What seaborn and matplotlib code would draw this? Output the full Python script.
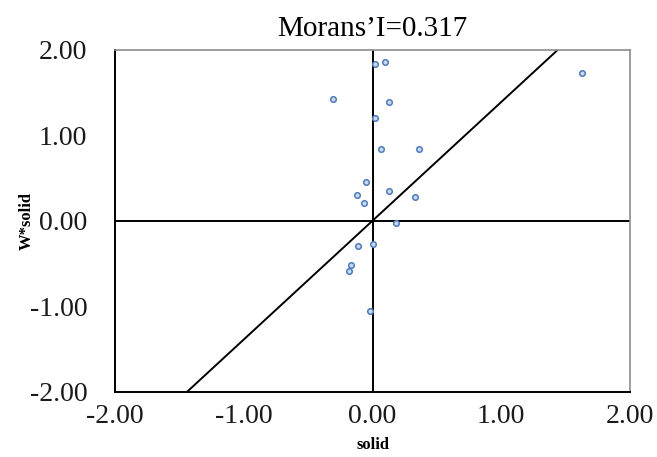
import matplotlib
matplotlib.use("Agg")
import matplotlib.pyplot as plt
import seaborn as sns
import pandas as pd

solid = [0.016, 0.10, -0.305, 0.13, 0.023, 0.067, 0.362, -0.049, -0.122, 0.126,
         -0.064, 0.328, 0.184, 0.002, -0.116, -0.168, -0.18, -0.023, 1.63]
w_solid = [1.83, 1.86, 1.43, 1.39, 1.20, 0.84, 0.84, 0.45, 0.30, 0.35,
           0.21, 0.28, -0.03, -0.27, -0.30, -0.52, -0.59, -1.06, 1.73]
slope = 1.39
title = "Morans\u2019I=0.317"
ticks = [-2, -1, 0, 1, 2]

df = pd.DataFrame({"solid": solid, "W*solid": w_solid})

sns.set_style("white")
plt.rcParams['font.family'] = ['Liberation Serif', 'DejaVu Serif']
plt.rcParams['text.color'] = 'black'
plt.rcParams['axes.labelcolor'] = 'black'
plt.rcParams['xtick.color'] = 'black'
plt.rcParams['ytick.color'] = 'black'

fig = plt.figure(figsize=(6.57, 4.57), dpi=100)
ax = fig.add_axes([0.175, 0.143, 0.784, 0.748])

ax.axhline(0, color='black', lw=1.4, zorder=1)
ax.axvline(0, color='black', lw=1.4, zorder=1)
ax.axline((0, 0), slope=slope, color='black', lw=1.4, zorder=1)

sns.scatterplot(data=df, x="solid", y="W*solid", ax=ax, marker='o', s=16,
                facecolor='#c9d8ef', edgecolor='#4a7cc4', linewidth=1.1, zorder=3)

ax.set_xlim(-2, 2)
ax.set_ylim(-2, 2)
ax.set_xticks(ticks)
ax.set_yticks(ticks)
ax.set_xticklabels([f"{t:.2f}" for t in ticks], fontsize=20, color='#1a1a1a')
ax.set_yticklabels([f"{t:.2f}" for t in ticks], fontsize=20, color='#1a1a1a')
ax.tick_params(axis='both', direction='in', length=5, width=1.2, color='black')
ax.tick_params(axis='x', pad=9)
ax.tick_params(axis='y', pad=20)

for s in ['left', 'bottom']:
    ax.spines[s].set_color('black')
    ax.spines[s].set_linewidth(1.4)
for s in ['top', 'right']:
    ax.spines[s].set_color('#8c8c8c')
    ax.spines[s].set_linewidth(1.2)

ax.set_xlabel("solid", fontsize=12, fontweight='bold', labelpad=6)
ax.set_ylabel("W*solid", fontsize=12, fontweight='bold', labelpad=-4)
ax.set_title(title, fontsize=21, pad=10)

fig.savefig("out.png", dpi=100)
